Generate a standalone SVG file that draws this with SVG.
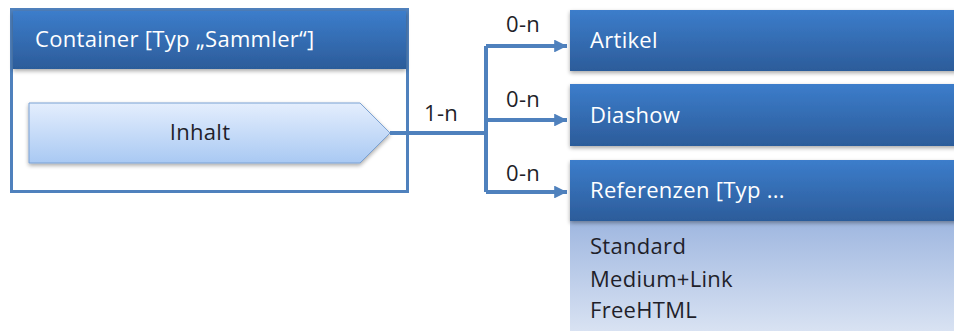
<svg xmlns="http://www.w3.org/2000/svg" width="954" height="331" viewBox="0 0 954 331">
<defs>
<linearGradient id="hdr" x1="0" y1="0" x2="0" y2="1">
<stop offset="0" stop-color="#3c7dcb"/>
<stop offset="1" stop-color="#2c5c9a"/>
</linearGradient>
<linearGradient id="body" x1="0" y1="0" x2="0" y2="1">
<stop offset="0" stop-color="#9fb7e0"/>
<stop offset="1" stop-color="#dbe4f3"/>
</linearGradient>
<linearGradient id="pent" x1="0" y1="0" x2="0" y2="1">
<stop offset="0" stop-color="#e4eefd"/>
<stop offset="1" stop-color="#a9c9f3"/>
</linearGradient>
<filter id="sh" x="-5%" y="-20%" width="115%" height="160%">
<feGaussianBlur in="SourceAlpha" stdDeviation="2"/>
<feOffset dx="0" dy="2" result="b"/>
<feComponentTransfer><feFuncA type="linear" slope="0.35"/></feComponentTransfer>
<feMerge><feMergeNode/><feMergeNode in="SourceGraphic"/></feMerge>
</filter>
<marker id="arr" viewBox="0 0 10 10" refX="10" refY="5" markerWidth="4" markerHeight="3.2" orient="auto" markerUnits="strokeWidth">
<path d="M0,0 L10,5 L0,10 Z" fill="#4f81bd"/>
</marker>
</defs>
<style>
.t{font-family:"Open Sans","Noto Sans",sans-serif;font-size:22px;letter-spacing:0.3px}
.w{fill:#ffffff}
.d{fill:#1f1f2a}
.ln{fill:none;stroke:#4f81bd;stroke-width:4}
</style>

<g id="container">
<rect x="11.5" y="9.5" width="396" height="182" fill="#ffffff" stroke="#4f81bd" stroke-width="3"/>
<rect x="13" y="11" width="393" height="58" fill="url(#hdr)" filter="url(#sh)"/>
<text class="t w" x="35" y="47">Container [Typ „Sammler“]</text>
</g>

<g id="inhalt">
<path d="M29,103 L360,103 L390,133 L360,163 L29,163 Z" fill="url(#pent)" stroke="#7aa1d3" stroke-width="1" filter="url(#sh)"/>
<text class="t d" x="200" y="140" text-anchor="middle">Inhalt</text>
</g>

<g id="connectors">
<path class="ln" d="M390,133 L486,133"/>
<path class="ln" d="M486,192 L486,46"/>
<path class="ln" d="M486,46 L567,46" marker-end="url(#arr)"/>
<path class="ln" d="M486,120 L567,120" marker-end="url(#arr)"/>
<path class="ln" d="M486,192 L567,192" marker-end="url(#arr)"/>
<text class="t d" x="424" y="121">1-n</text>
<text class="t d" x="506" y="32">0-n</text>
<text class="t d" x="506" y="107">0-n</text>
<text class="t d" x="506" y="181">0-n</text>
</g>

<g id="artikel">
<rect x="570" y="10" width="390" height="61" fill="url(#hdr)" filter="url(#sh)"/>
<text class="t w" x="590" y="48">Artikel</text>
</g>

<g id="diashow">
<rect x="570" y="84" width="390" height="62" fill="url(#hdr)" filter="url(#sh)"/>
<text class="t w" x="590" y="123">Diashow</text>
</g>

<g id="referenzen">
<rect x="570" y="221" width="390" height="115" fill="url(#body)"/>
<rect x="570" y="160" width="390" height="61" fill="url(#hdr)" filter="url(#sh)"/>
<text class="t w" x="590" y="198">Referenzen [Typ ...</text>
<text class="t d" x="590" y="254">Standard</text>
<text class="t d" x="590" y="287">Medium+Link</text>
<text class="t d" x="590" y="318">FreeHTML</text>
</g>
</svg>
